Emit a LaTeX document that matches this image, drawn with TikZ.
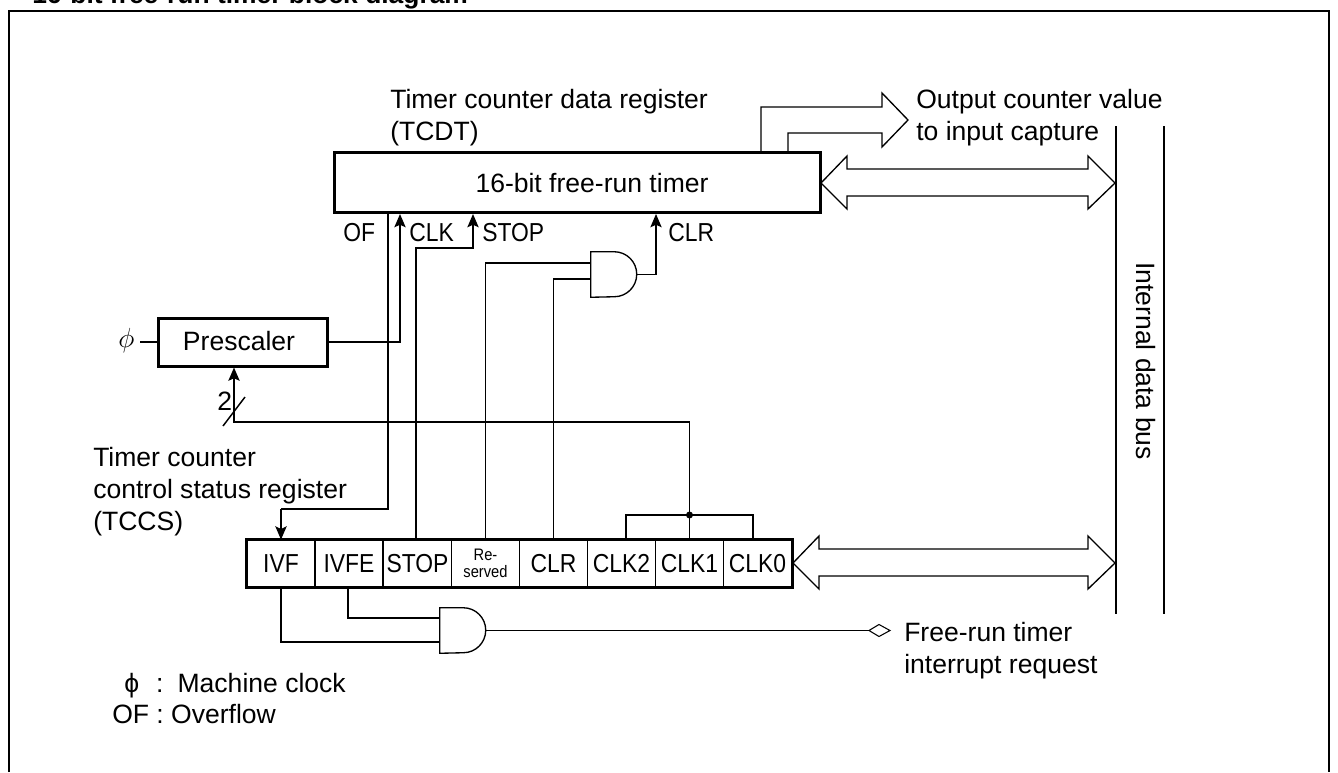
\documentclass[tikz,border=0pt]{standalone}
\usepackage{fontspec}
\usepackage{amsmath}
\usepackage{tikz}
\usetikzlibrary{arrows.meta,calc}
\setmainfont{Liberation Sans}
\newfontfamily\condfont[FakeStretch=0.88]{Liberation Sans}
\tikzset{
  wire/.style={line width=1.1pt},
  sig/.style={wire,-{Stealth[length=10pt,width=8.5pt,inset=2pt]}},
  busarrow/.style={line width=1pt,line join=miter},
  thickbox/.style={draw,line width=2.25pt,inner sep=0pt},
  cell/.style={draw,line width=.8pt,inner sep=0pt,minimum width=51pt,minimum height=35pt,font=\fontsize{19.5pt}{22pt}\selectfont\condfont},
  andbody/.style={inner sep=0pt,minimum width=34.5pt,minimum height=33.75pt},
  lbl/.style={inner sep=0pt,align=left,anchor=base west,font=\fontsize{19.9pt}{24pt}\selectfont},
  pinlbl/.style={inner sep=0pt,anchor=base west,font=\fontsize{19.5pt}{22pt}\selectfont\condfont},
}
\begin{document}
\begin{tikzpicture}[x=.75pt,y=-.75pt]
    \useasboundingbox (0,0) rectangle (1338,772);
    \clip (0,0) rectangle (1338,772);
    \node [lbl,font=\fontsize{19.8pt}{24pt}\selectfont\bfseries] (title) at (32,3) {16-bit free-run timer block diagram};
    \draw [line width=1.5pt] (9,772) -- (9,11) -- (1329,11) -- (1329,772);
    % registers and blocks
    \node [thickbox,minimum width=364.5pt,minimum height=45pt] (timer) at (577.5,182.5) {};
    \node [lbl,anchor=center] (timertext) at (592,183) {16-bit free-run timer};
    \node [thickbox,minimum width=126.75pt,minimum height=36pt] (prescaler) at (242.5,342) {};
    \node [lbl,anchor=center] (prescalertext) at (239,341) {Prescaler};
    \foreach \name/\xc/\txt in {ivf/281/IVF,ivfe/349/IVFE,stop/417.5/STOP,clr/553.5/CLR,clktwo/621.5/CLK2,clkone/689.5/CLK1,clkzero/757.5/CLK0}
        \node [cell] (\name) at (\xc,563.5) {\txt};
    \node [cell,align=center,font=\fontsize{12.5pt}{13.2pt}\selectfont\condfont] (resv) at (485.5,563.5) {Re-\\served};
    \draw [line width=2.25pt] (ivf.north west) rectangle (clkzero.south east);
    % and gates
    \node [andbody] (cgate) at (614,274.5) {};
    \node [andbody] (igate) at (463,630.5) {};
    \foreach \g in {cgate,igate}
        \draw [line width=1pt] (\g.north west) -- ($(\g.north west)+(23.5,0)$) arc [start angle=90,end angle=-90,radius=16.875pt] -- (\g.south west) -- cycle;
    % internal data bus
    \coordinate (busa) at (1116,126);
    \coordinate (busb) at (1164,126);
    \draw [line width=1.5pt] (busa) -- (1116,614);
    \draw [line width=1.5pt] (busb) -- (1164,614);
    % bus arrows
    \foreach \xl/\y in {821/183,793/563}
        \draw [busarrow,fill=white] (\xl,\y) -- (\xl+26,\y-27) -- (\xl+26,\y-14) -- (1088,\y-14) -- (1088,\y-27) -- (1115,\y)
            -- (1088,\y+26) -- (1088,\y+13) -- (\xl+26,\y+13) -- (\xl+26,\y+26) -- cycle;
    \draw [busarrow] (761,151) -- (761,107) -- (882,107) -- (882,93) -- (908,120) -- (882,147) -- (882,133) -- (788,133) -- (788,151);
    % wires
    \draw [wire] (timer.south -| 388,0) -- (388,509) -- (281,509) coordinate (ofbend);
    \draw [sig] (ofbend) -- (ivf.north);
    \draw [wire] (140,342) -- (prescaler.west);
    \draw [sig] (prescaler.east) -- (400,342) -- (timer.south -| 400,0);
    \draw [sig] (stop.north -| 416,0) -- (416,248) -- (473,248) -- (timer.south -| 473,0);
    \draw [wire] (resv.north) -- (resv.north |- 0,263) -- (cgate.west |- 0,263);
    \draw [wire] (clr.north) -- (clr.north |- 0,279) -- (cgate.west |- 0,279);
    \draw [sig] (cgate.east) -| (timer.south -| 656,0);
    \draw [sig] (clkone.north) -- (clkone.north |- 0,422) -- (234,422) -- (prescaler.south -| 234,0);
    \draw [wire] (223,426) -- (245,397);
    \draw [wire] (clktwo.north -| 626,0) -- (626,515) -- (753,515) -- (clkzero.north -| 753,0);
    \fill (clkone.north |- 0,515) circle [radius=3.5];
    \draw [wire] (ivfe.south -| 348,0) -- (348,618) -- (igate.west |- 0,618);
    \draw [wire] (ivf.south) -- (281,642) -- (igate.west |- 0,642);
    \coordinate (irq) at (869,630.5);
    \draw [wire] (igate.east) -- (irq);
    \draw [line width=.8pt] (irq) -- (879,624.5) -- (890,630.5) -- (879,636.5) -- cycle;
    % labels
    \node [lbl] (tcdt) at (390,140) {Timer counter data register\\(TCDT)};
    \node [lbl] (outval) at (916,140) {Output counter value\\to input capture};
    \node [pinlbl] (oflbl) at (343,241) {OF};
    \node [pinlbl] (clklbl) at (409,241) {CLK};
    \node [pinlbl] (stoplbl) at (482,241) {STOP};
    \node [pinlbl] (clrlbl) at (668,241) {CLR};
    \node [lbl] (philbl) at (118,347) {$\phi$};
    \node [lbl] (twolbl) at (217,410) {2};
    \node [lbl] (tccs) at (93,530) {Timer counter\\control status register\\(TCCS)};
    \node [lbl] (irqlbl) at (904,673) {Free-run timer\\interrupt request};
    \node [lbl,anchor=center,rotate=-90] (buslbl) at (1146,361) {Internal data bus};
    \node [lbl] (legphi) at (124,692) {\makebox[24pt][l]{\char"03D5}:\hspace{10.5pt}Machine clock};
    \node [lbl] (legof) at (112,723) {OF : Overflow};
\end{tikzpicture}
\end{document}
